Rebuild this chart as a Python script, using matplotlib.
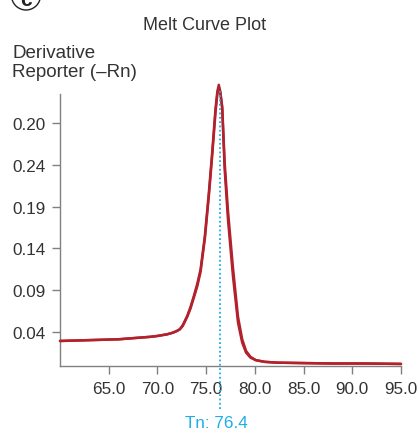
import matplotlib
matplotlib.use("Agg")
import matplotlib.pyplot as plt
from matplotlib.patches import Circle

plt.rcParams['font.family'] = ['Liberation Sans', 'DejaVu Sans']

# ---- data ----
temps = [60, 63, 66, 69.3, 70, 71, 71.6, 72.0, 72.3, 72.6, 73.06, 73.4, 73.74, 74.1,
         74.43, 74.87, 75.28, 75.62, 75.96, 76.15, 76.3, 76.45, 76.65, 76.9, 77.24,
         77.75, 78.27, 78.7, 79.1, 79.55, 80.1, 81, 82.3, 85, 88, 91, 95]
rep1 = [0.029, 0.030, 0.031, 0.034, 0.035, 0.037, 0.039, 0.041, 0.043, 0.048, 0.059,
        0.070, 0.083, 0.098, 0.115, 0.155, 0.207, 0.255, 0.307, 0.328, 0.336, 0.328,
        0.307, 0.235, 0.175, 0.107, 0.051, 0.027, 0.015, 0.009, 0.006, 0.004, 0.003,
        0.0025, 0.002, 0.002, 0.0015]
rep2 = [0.029, 0.030, 0.031, 0.034, 0.035, 0.037, 0.039, 0.041, 0.043, 0.047, 0.058,
        0.068, 0.081, 0.095, 0.112, 0.152, 0.203, 0.251, 0.303, 0.325, 0.333, 0.327,
        0.310, 0.243, 0.185, 0.117, 0.058, 0.031, 0.017, 0.010, 0.006, 0.004, 0.003,
        0.0025, 0.002, 0.002, 0.0015]
tm_value = 76.4
xticks = [65, 70, 75, 80, 85, 90, 95]
xtick_labels = ['65.0', '70.0', '75.0', '80.0', '85.0', '90.0', '95.0']
yticks = [0.04, 0.09, 0.14, 0.19, 0.24, 0.29]
ytick_labels = ['0.04', '0.09', '0.14', '0.19', '0.24', '0.20']

W, H = 419, 431
fig = plt.figure(figsize=(W / 100, H / 100), dpi=100)
ax = fig.add_axes([60 / W, (H - 367) / H, (401 - 60) / W, (367 - 95) / H])

red = '#b3222c'
for rep in (rep1, rep2):
    ax.plot(temps, rep, color=red, lw=1.8, clip_on=False, solid_capstyle='round',
            solid_joinstyle='round', zorder=3)

ax.plot([tm_value, tm_value], [-0.053, 0.329], color='#1eaee6', lw=1.3,
        linestyle=(0, (1, 1.4)), clip_on=False, zorder=4)

ax.set_xlim(60, 95)
ax.set_ylim(-0.001, 0.325)
ax.set_xticks(xticks)
ax.set_xticklabels(xtick_labels)
ax.set_yticks(yticks)
ax.set_yticklabels(ytick_labels)

for s in ('top', 'right'):
    ax.spines[s].set_visible(False)
for s in ('left', 'bottom'):
    ax.spines[s].set_color('#808080')
    ax.spines[s].set_linewidth(1.0)
ax.tick_params(axis='both', colors='#808080', labelcolor='#333333', length=5.5,
               width=1.0, labelsize=12.3)
ax.tick_params(axis='y', pad=4.5)
ax.tick_params(axis='x', pad=5)

fig.text(204.6 / W, 1 - 25 / H, 'Melt Curve Plot', ha='center', va='center',
         fontsize=13, color='#333333')
fig.text(12 / W, 1 - 45 / H, 'Derivative\nReporter (\u2013Rn)', ha='left', va='top',
         fontsize=13.5, color='#333333', linespacing=1.12)
fig.text(216 / W, 1 - 424 / H, 'Tn: 76.4', ha='center', va='center',
         fontsize=12.3, color='#1eaee6')

circ = Circle((26 / 100, (H + 3.5) / 100), 0.145, transform=fig.dpi_scale_trans,
              fill=False, edgecolor='#222222', lw=1.0)
fig.add_artist(circ)
fig.text(26 / W, 1 - 1 / H, 'c', ha='center', va='center', fontsize=15,
         fontweight='bold', color='#222222')

fig.savefig('out.png', dpi=100)
